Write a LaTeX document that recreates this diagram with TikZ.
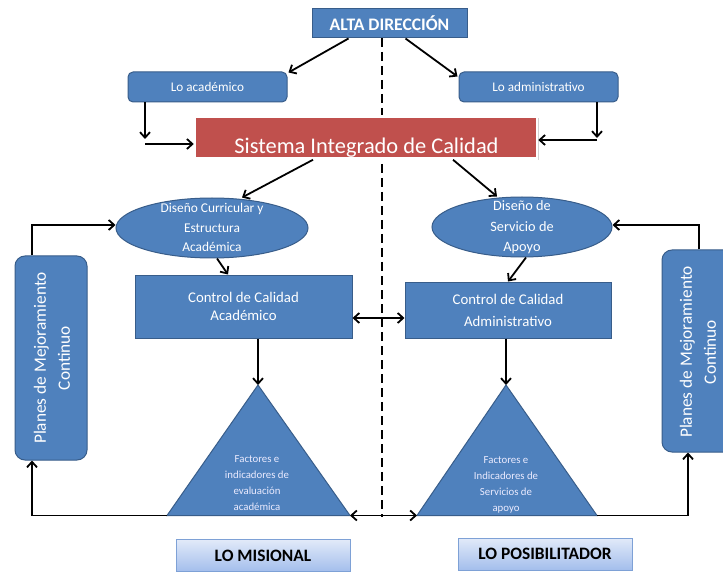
\documentclass[tikz,border=0pt]{standalone}
\usepackage{fontspec}
\setmainfont{Carlito}
\usetikzlibrary{arrows.meta,shapes.geometric,shadows}
\definecolor{bfill}{HTML}{4F81BD}
\definecolor{bdraw}{HTML}{385D8A}
\definecolor{rfill}{HTML}{C0504D}
\definecolor{gtop}{HTML}{E2EAF9}
\definecolor{gbot}{HTML}{A3BEEC}
\definecolor{gdraw}{HTML}{7EA1D6}
\begin{document}
\begin{tikzpicture}[x=1pt,y=-1pt,
  blk/.style={draw=bdraw, fill=bfill, line width=1pt, text=white, align=center, inner sep=0pt},
  wtext/.style={text=white, align=center, inner sep=0pt},
  lbl/.style={draw=gdraw, line width=1pt, top color=gtop, bottom color=gbot, minimum width=174pt, minimum height=32pt, font=\fontsize{17.4}{19}\selectfont\bfseries, inner sep=0pt},
  arr/.style={line width=1.8pt, -{Straight Barb[length=5.5pt,width=10pt,line width=1.8pt]}},
  arrb/.style={line width=1.8pt, {Straight Barb[length=5.5pt,width=10pt,line width=1.8pt]}-{Straight Barb[length=5.5pt,width=10pt,line width=1.8pt]}},
  plan/.style={blk, rounded corners=10pt, minimum width=72pt}]
\useasboundingbox (0,0) rectangle (723,572);
\fill[white] (0,0) rectangle (723,572);

% dashed divider
\coordinate (dtop) at (382,38);
\coordinate (dbot) at (382,517);
\draw[line width=2pt, dash pattern=on 9pt off 5pt] (dtop) -- (dbot);

% top
\node[blk, minimum width=155pt, minimum height=29pt, font=\fontsize{17.6}{19}\selectfont\bfseries] (alta) at (389.5,23.5) {ALTA DIRECCIÓN};
\node[blk, rounded corners=5pt, minimum width=159pt, minimum height=30pt, font=\fontsize{13.2}{15}\selectfont] (laca) at (207.5,87) {Lo académico};
\node[blk, rounded corners=5pt, minimum width=159pt, minimum height=30pt, font=\fontsize{13.2}{15}\selectfont] (ladm) at (538.5,87) {Lo administrativo};

\node[fill=rfill, draw=white, line width=2.5pt, drop shadow={opacity=0.35, shadow xshift=1.5pt, shadow yshift=-1.5pt}, minimum width=342pt, minimum height=42pt, inner sep=0pt] (sic) at (366,137.5) {};
\node[wtext, anchor=base, font=\fontsize{22.4}{26}\selectfont] (sict) at (366.5,154) {Sistema Integrado de Calidad};

% ellipses
\node[blk, ellipse, minimum width=192pt, minimum height=60pt] (dc) at (212,228) {};
\node[wtext, font=\fontsize{13.4}{19.5}\selectfont] (dct) at (212,227.5) {Diseño Curricular y\\Estructura\\Académica};
\node[blk, ellipse, minimum width=180pt, minimum height=60pt] (ds) at (522,227) {};
\node[wtext, font=\fontsize{14.3}{20.5}\selectfont] (dst) at (522,227.5) {Diseño de\\Servicio de\\Apoyo};

% controls
\node[blk, minimum width=217pt, minimum height=63pt, font=\fontsize{14.8}{18.5}\selectfont] (cca) at (243.5,306.5) {Control de Calidad\\Académico};
\node[blk, minimum width=206pt, minimum height=56pt, font=\fontsize{14.8}{22}\selectfont] (cad) at (508,310) {Control de Calidad\\Administrativo};

% plans
\node[plan, minimum height=204pt] (pl) at (51,358) {};
\node[wtext, rotate=90, font=\fontsize{17.3}{24}\selectfont] (plt) at (52,358) {Planes de Mejoramiento\\Continuo};
\node[plan, minimum height=202pt] (pr) at (698,351) {};
\node[wtext, rotate=90, font=\fontsize{17.3}{24}\selectfont] (prt) at (698,352) {Planes de Mejoramiento\\Continuo};

% triangles
\coordinate (tla) at (258,385);
\coordinate (tll) at (167,515.5);
\coordinate (tlr) at (350,515.5);
\coordinate (tra) at (506,385);
\coordinate (trl) at (417,515.5);
\coordinate (trr) at (597,515.5);
\filldraw[fill=bfill, draw=bdraw, line width=1pt] (tla) -- (tlr) -- (tll) -- cycle;
\filldraw[fill=bfill, draw=bdraw, line width=1pt] (tra) -- (trr) -- (trl) -- cycle;
\node[wtext, text=white!92!blue, font=\fontsize{10.8}{16}\selectfont] (tlt) at (257,483.5) {Factores e\\indicadores de\\evaluación\\académica};
\node[wtext, text=white!92!blue, font=\fontsize{10.8}{16}\selectfont] (trt) at (506,485) {Factores e\\Indicadores de\\Servicios de\\apoyo};

% bottom labels
\node[lbl] (mis) at (263,555.5) {LO MISIONAL};
\node[lbl] (pos) at (545,554) {LO POSIBILITADOR};

% connectors
\draw[arr] ([xshift=-41pt]alta.south) -- ([xshift=1pt,yshift=-1pt]laca.north east);
\draw[arr] ([xshift=16pt]alta.south) -- ([xshift=-1pt,yshift=-5pt]ladm.north west);
\coordinate (la1) at (145,139);
\coordinate (la2) at (145,144);
\draw[arr] (la1 |- laca.south) -- (la1);
\draw[arr] (la2) -- (la2 -| sic.west);
\coordinate (ra1) at (597,138);
\coordinate (ra2) at (597,140);
\draw[arr] (ra1 |- ladm.south) -- (ra1);
\draw[arr] (ra2) -- (ra2 -| sic.east);
\draw[arr] ([xshift=-53pt]sic.south) -- ([xshift=30pt]dc.north);
\draw[arr] ([xshift=87pt]sic.south) -- ([xshift=-25pt]ds.north);
\draw[arr] ([xshift=5pt]dc.south) -- ([xshift=-15.5pt]cca.north);
\draw[arr] ([xshift=4pt]ds.south) -- (cad.north);
\draw[arr] (tla |- cca.south) -- (tla);
\draw[arr] (tra |- cad.south) -- (tra);
\draw[arrb] ([yshift=-11.5pt]cca.east) -- ([yshift=-11.5pt]cca.east -| cad.west);
\draw[arrb] (tlr) -- (trl);
\draw[arr] (tll) -| ([xshift=-19pt]pl.south);
\draw[arr] (trr) -| ([xshift=-10pt]pr.south);
\draw[arr] ([xshift=-19pt]pl.north) |- ([yshift=3pt]dc.west);
\draw[arr] ([xshift=1pt]pr.north) |- ([yshift=2pt]ds.east);
\end{tikzpicture}
\end{document}
